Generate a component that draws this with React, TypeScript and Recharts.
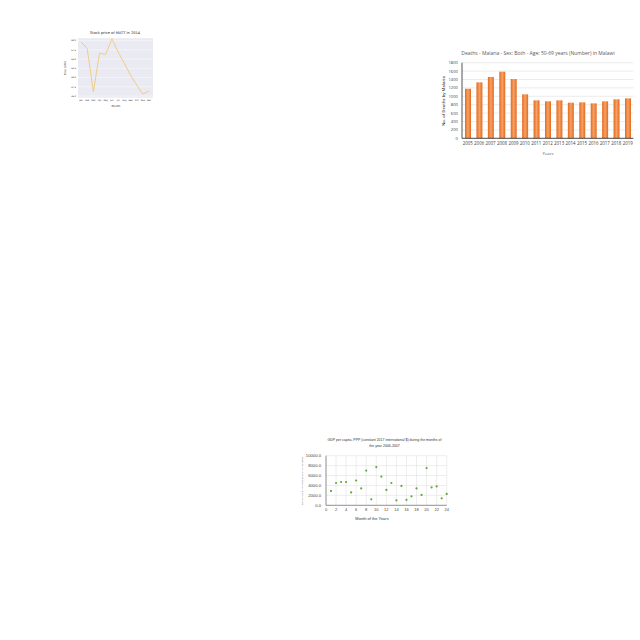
import { LineChart, Line, BarChart, Bar, ScatterChart, Scatter, XAxis, YAxis, CartesianGrid } from 'recharts';
import type { CSSProperties } from 'react';

// Chart 1: stock price
const months = ['Jan', 'Feb', 'Mar', 'Apr', 'May', 'Jun', 'Jul', 'Aug', 'Sep', 'Oct', 'Nov', 'Dec'];
const prices = [59.7, 57.9, 46.2, 56.6, 56.3, 60.5, 57.0, 53.9, 50.7, 48.0, 45.5, 46.4];
const priceTicks = [45, 47.5, 50, 52.5, 55, 57.5, 60];

// Chart 2: malaria deaths
const years = ['2005', '2006', '2007', '2008', '2009', '2010', '2011', '2012', '2013', '2014', '2015', '2016', '2017', '2018', '2019'];
const deaths = [1180, 1332, 1459, 1586, 1411, 1047, 904, 880, 904, 848, 856, 832, 880, 928, 951];
const deathTicks = [0, 200, 400, 600, 800, 1000, 1200, 1400, 1600, 1800];

// Chart 3: GDP per capita by month
const gdpMonths = [1, 2, 3, 4, 5, 6, 7, 8, 9, 10, 11, 12, 13, 14, 15, 16, 17, 18, 19, 20, 21, 22, 23, 24];
const gdpValues = [2900, 4500, 4700, 4700, 2600, 5000, 3400, 7000, 1200, 7700, 5800, 3100, 4500, 1000, 3900, 1100, 1800, 3400, 2100, 7500, 3600, 3800, 1400, 2300];
const monthTicks = [0, 2, 4, 6, 8, 10, 12, 14, 16, 18, 20, 22, 24];
const gdpTicks = [0, 2000, 4000, 6000, 8000, 10000];

const priceData = months.map((m, i) => ({ month: m, price: prices[i] }));
const deathData = years.map((y, i) => ({ year: y, deaths: deaths[i] }));
const gdpData = gdpMonths.map((m, i) => ({ month: m, gdp: gdpValues[i] }));

function Label({ x, y, text, size, color = '#333', font, rotate = false, weight = 400 }: {
  x: number; y: number; text: string; size: number; color?: string; font: string; rotate?: boolean; weight?: number;
}) {
  const style: CSSProperties = {
    position: 'absolute',
    left: x,
    top: y,
    transform: `translate(-50%, -50%)${rotate ? ' rotate(-90deg)' : ''}`,
    fontSize: size,
    lineHeight: 1,
    whiteSpace: 'nowrap',
    color,
    fontFamily: font,
    fontWeight: weight,
  };
  return <div style={style}>{text}</div>;
}

const box = (left: number, top: number): CSSProperties => ({ position: 'absolute', left, top });

// small dot for the scatter points
const Dot = (props: any) => <circle cx={props.cx} cy={props.cy} r={1.1} fill="#5ea83c" />;

export default function App() {
  const dv = '"DejaVu Sans", sans-serif';
  const os = '"Open Sans", sans-serif';
  const lib = '"Liberation Sans", Arial, sans-serif';
  return (
    <div style={{ position: 'absolute', left: 0, top: 0, width: 640, height: 640, background: '#fff' }}>
      {/* Stock price line chart */}
      <Label x={115} y={33.5} text="Stock price of MATT in 2014" size={3.6} font={dv} color="#262626" />
      <Label x={116} y={105.5} text="Month" size={2.8} font={dv} color="#262626" />
      <Label x={66} y={68} text="Price (USD)" size={2.6} font={dv} color="#262626" rotate />
      <div style={box(60, 30)}>
        <LineChart width={100} height={80} data={priceData} margin={{ top: 8, right: 7, left: 0, bottom: 0 }}>
          <CartesianGrid fill="#eaeaf2" stroke="#ffffff" strokeWidth={0.4} vertical={false} />
          <XAxis
            dataKey="month"
            height={12}
            padding={{ left: 3, right: 4 }}
            axisLine={false}
            tickLine={false}
            tickSize={0}
            tickMargin={1.5}
            interval={0}
            tick={{ fontSize: 2.2, fill: '#262626', fontFamily: dv }}
          />
          <YAxis
            width={18}
            domain={[44.46, 60.73]}
            ticks={priceTicks}
            interval={0}
            axisLine={false}
            tickLine={false}
            tickSize={0}
            tickMargin={2}
            tickFormatter={(v: number) => v.toFixed(1)}
            tick={{ fontSize: 2.2, fill: '#262626', fontFamily: dv }}
          />
          <Line type="linear" dataKey="price" stroke="#f2c46d" strokeWidth={0.8} dot={false} isAnimationActive={false} />
        </LineChart>
      </div>

      {/* Malaria deaths bar chart */}
      <Label x={538} y={53.3} text="Deaths - Malaria - Sex: Both - Age: 50-69 years (Number) in Malawi" size={5} font={os} color="#595959" />
      <Label x={548} y={152.5} text="Years" size={4.3} font={os} color="#595959" />
      <Label x={444} y={101} text="No. of Deaths by Malaria" size={4.2} font={os} color="#404040" rotate weight={600} />
      <div style={box(440, 55)}>
        <BarChart width={200} height={105} data={deathData} margin={{ top: 7.7, right: 6.6, left: 0, bottom: 0 }}>
          <defs>
            <linearGradient id="barGrad" x1="0" y1="0" x2="1" y2="0">
              <stop offset="0%" stopColor="#e4691c" />
              <stop offset="50%" stopColor="#f5a266" />
              <stop offset="100%" stopColor="#e4691c" />
            </linearGradient>
          </defs>
          <CartesianGrid stroke="#d9d9d9" strokeWidth={0.5} vertical={false} />
          <XAxis
            dataKey="year"
            height={21.7}
            axisLine={{ stroke: '#262626', strokeWidth: 0.8 }}
            tickLine={false}
            tickSize={2}
            tickMargin={2}
            interval={0}
            tick={{ fontSize: 4.4, fill: '#404040', fontFamily: os }}
          />
          <YAxis
            width={22}
            domain={[0, 1800]}
            ticks={deathTicks}
            interval={0}
            axisLine={{ stroke: '#262626', strokeWidth: 0.8 }}
            tickLine={false}
            tickSize={2}
            tickMargin={2}
            tick={{ fontSize: 4.2, fill: '#404040', fontFamily: os }}
          />
          <Bar dataKey="deaths" fill="url(#barGrad)" barSize={6} isAnimationActive={false} />
        </BarChart>
      </div>

      {/* GDP scatter chart */}
      <Label x={384.5} y={440.7} text="GDP per capita, PPP (constant 2017 international $) during the months of" size={3.5} font={lib} color="#333" />
      <Label x={384.5} y={446.9} text="the year 2006-2007" size={3.5} font={lib} color="#333" />
      <Label x={372} y={519} text="Month of the Years" size={4} font={lib} color="#333" />
      <Label x={301.5} y={481} text="GDP per capita, PPP (constant 2017 international $)" size={2.1} font={lib} color="#555" rotate />
      <div style={box(295, 450)}>
        <ScatterChart width={160} height={65} margin={{ top: 5.7, right: 8.3, left: 0, bottom: 0 }}>
          <CartesianGrid stroke="#dcdcdc" strokeWidth={0.5} />
          <XAxis
            type="number"
            dataKey="month"
            domain={[0, 24]}
            ticks={monthTicks}
            height={9.7}
            axisLine={{ stroke: '#555', strokeWidth: 0.6 }}
            tickLine={false}
            tickSize={1}
            tickMargin={2}
            interval={0}
            tick={{ fontSize: 4, fill: '#444', fontFamily: lib }}
          />
          <YAxis
            type="number"
            dataKey="gdp"
            width={31}
            domain={[0, 10000]}
            ticks={gdpTicks}
            interval={0}
            axisLine={{ stroke: '#555', strokeWidth: 0.6 }}
            tickLine={false}
            tickSize={2}
            tickMargin={3}
            tickFormatter={(v: number) => v.toFixed(1)}
            tick={{ fontSize: 4.2, fill: '#444', fontFamily: lib }}
          />
          <Scatter data={gdpData} fill="#5ea83c" shape={Dot} isAnimationActive={false} />
        </ScatterChart>
      </div>
    </div>
  );
}
